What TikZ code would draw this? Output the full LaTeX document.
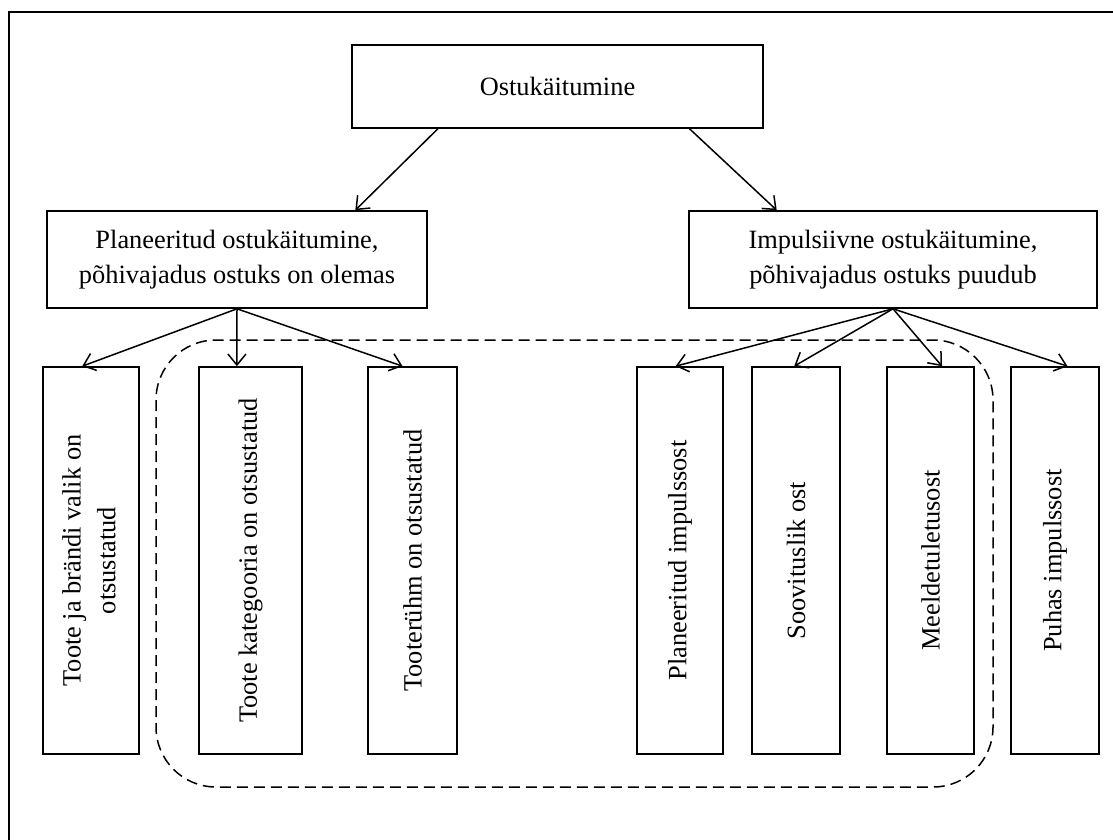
\documentclass[tikz,border=0pt]{standalone}
\usepackage{fontspec}
\setmainfont{Liberation Serif}
\usetikzlibrary{arrows.meta,calc}

\begin{document}
\begin{tikzpicture}[x=0.5pt,y=-0.5pt,
  font=\fontsize{13.2}{17.5}\selectfont,
  box/.style={draw,line width=0.8pt,inner sep=0pt,align=center},
  vbox/.style={draw,line width=0.8pt,inner sep=0pt,minimum height=193.5pt},
  arr/.style={line width=0.75pt,-{Straight Barb[length=5.5pt,width=9pt]}},
  grp/.style={line width=0.75pt,dash pattern=on 5.5pt off 3pt,rounded corners=30pt}]
\useasboundingbox (0,0) rectangle (1113,840);
\draw[line width=1.1pt] (9,840) -- (9,12) -- (1113,12);

\node[box,minimum width=205.5pt,minimum height=41.5pt] (ost) at (557.5,86.5) {Ostukäitumine};
\node[box,minimum width=190pt,minimum height=48.5pt] (plan) at (237,259.5) {Planeeritud ostukäitumine,\\põhivajadus ostuks on olemas};
\node[box,minimum width=204pt,minimum height=48.5pt] (imp) at (893,259.5) {Impulsiivne ostukäitumine,\\põhivajadus ostuks puudub};

\node[vbox,minimum width=48pt] (b1) at (91,560.5) {\rotatebox{90}{\begin{tabular}{@{}c@{}}Toote ja brändi valik on\\otsustatud\end{tabular}}};
\node[vbox,minimum width=51.5pt] (b2) at (250.5,560.5) {\rotatebox{90}{Toote kategooria on otsustatud}};
\node[vbox,minimum width=44.5pt] (b3) at (412.5,560.5) {\rotatebox{90}{Tooterühm on otsustatud}};
\node[vbox,minimum width=43pt] (b4) at (680,560.5) {\rotatebox{90}{Planeeritud impulssost}};
\node[vbox,minimum width=44pt] (b5) at (796,560.5) {\rotatebox{90}{Soovituslik ost}};
\node[vbox,minimum width=43.5pt] (b6) at (930.5,560.5) {\rotatebox{90}{Meeldetuletusost}};
\node[vbox,minimum width=44pt] (b7) at (1055,560.5) {\rotatebox{90}{Puhas impulssost}};

\draw[grp] (156,340) rectangle (993,787);

\draw[arr] ($(ost.south west)!.21!(ost.south east)$) -- ($(plan.north west)!.81!(plan.north east)$);
\draw[arr] ($(ost.south west)!.82!(ost.south east)$) -- ($(imp.north west)!.216!(imp.north east)$);
\draw[arr] (plan.south) -- ($(b1.north west)!.41!(b1.north east)$);
\draw[arr] (plan.south) -- ($(b2.north west)!.37!(b2.north east)$);
\draw[arr] (plan.south) -- ($(b3.north west)!.39!(b3.north east)$);
\draw[arr] (imp.south) -- ($(b4.north west)!.45!(b4.north east)$);
\draw[arr] (imp.south) -- ($(b5.north west)!.48!(b5.north east)$);
\draw[arr] (imp.south) -- ($(b6.north west)!.63!(b6.north east)$);
\draw[arr] (imp.south) -- ($(b7.north west)!.64!(b7.north east)$);
\end{tikzpicture}
\end{document}
